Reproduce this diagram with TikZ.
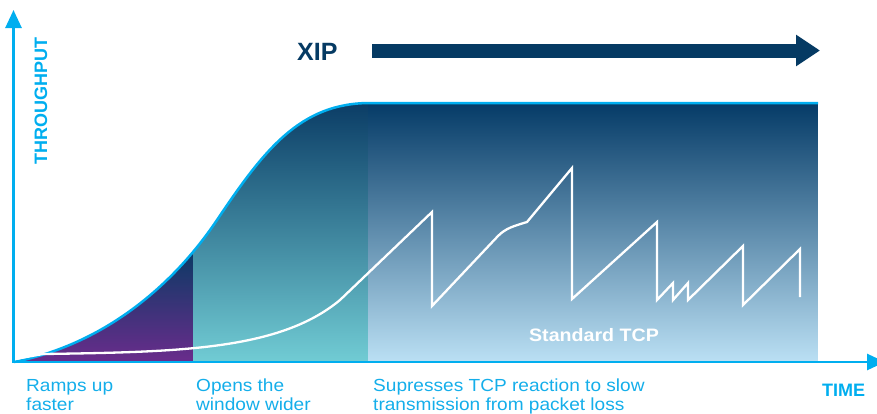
\documentclass[tikz,border=0pt]{standalone}
\usepackage{fontspec}
\setmainfont{Liberation Sans}
\newfontfamily\widefont{Liberation Sans}[FakeStretch=1.09]
\usetikzlibrary{arrows.meta,positioning}

\definecolor{axiscyan}{HTML}{00AEEF}
\definecolor{labelcyan}{HTML}{14AEEA}
\definecolor{xipnavy}{HTML}{053A63}
\definecolor{rampbot}{HTML}{6A2C8C}
\definecolor{ramptop}{HTML}{0A3A64}
\definecolor{opentop}{HTML}{0B3D66}
\definecolor{openbot}{HTML}{71CCD4}
\definecolor{holdtop}{HTML}{053B67}
\definecolor{holdbot}{HTML}{BBE0F4}

\tikzset{x=1pt, y=-1pt, % one unit is one pixel, y runs down
        axis line/.style={ % the two cyan axes
            draw=axiscyan,
            line width=2.7pt,
            -{Triangle[length=18pt,width=16pt]}},
        xip arrow/.style={ % the fat navy arrow
            draw=xipnavy,
            line width=14pt,
            -{Triangle[length=24pt,width=30pt]}},
        phase label/.style={ % texts under the time axis
            text=labelcyan,
            font=\widefont\fontsize{17.5}{19}\selectfont,
            align=left,
            inner sep=0pt,
            anchor=north west},
        axis label/.style={
            text=axiscyan,
            font=\fontsize{18}{20}\selectfont\bfseries,
            inner sep=0pt,
            anchor=base west}
        }

\begin{document}
\begin{tikzpicture}
    \useasboundingbox (0,0) rectangle (877,413);

    % area under the XIP curve, three phases
    \begin{scope}
        \clip (14,362) .. controls (100,345) and (170,290) .. (217,220)
            .. controls (264,150) and (300,103) .. (370,103)
            -- (818,103) -- (818,362) -- cycle;
        \shade[top color=ramptop, bottom color=rampbot] (14,250) rectangle (193,362);
        \shade[top color=opentop, bottom color=openbot] (193,103) rectangle (368,362);
        \shade[top color=holdtop, bottom color=holdbot] (368,103) rectangle (818,362);
    \end{scope}

    % XIP curve outline
    \draw[axiscyan, line width=2.5pt]
        (14,362) .. controls (100,345) and (170,290) .. (217,220)
        .. controls (264,150) and (300,103) .. (370,103)
        -- (818,103);

    % standard TCP sawtooth
    \draw[white, line width=2.3pt, line join=miter]
        (15,359) -- (43,354)
        .. controls (180,352) and (280,350) .. (340,300)
        -- (432,212) -- (432,306) -- (498,236)
        .. controls (506,228) and (514,226) .. (527,222)
        -- (572,168) -- (572,299) -- (657,222) -- (657,300)
        -- (673,283) -- (673,300) -- (688,283) -- (688,300)
        -- (743,246) -- (743,305) -- (800,249) -- (800,297);

    % axes
    \coordinate (origin) at (13.5,362);
    \coordinate (ytop) at (13.5,10);
    \coordinate (xend) at (885,362);
    \draw[axis line] (origin) -- (ytop);
    \draw[axis line] ([xshift=-1.35pt]origin) -- (xend);

    % XIP arrow
    \node[text=xipnavy, font=\fontsize{25}{28}\selectfont\bfseries,
          inner sep=0pt, anchor=base west] (xip) at (297,60) {XIP};
    \coordinate (xipstart) at (372,50.5);
    \coordinate (xipend) at (820,50.5);
    \draw[xip arrow] (xipstart) -- (xipend);

    % labels
    \node[axis label, rotate=90] (throughput) at (47,165) {THROUGHPUT};
    \node[axis label] (time) at (822,396) {TIME};
    \node[text=white, font=\widefont\fontsize{18}{20}\selectfont\bfseries,
          anchor=base, inner sep=0pt] (tcp) at (594,341) {Standard TCP};

    \node[phase label] (ramp) at (26,379) {Ramps up\\faster};
    \node[phase label] (open) at (196,379) {Opens the\\window wider};
    \node[phase label] (hold) at (373,379) {Supresses TCP reaction to slow\\transmission from packet loss};
\end{tikzpicture}
\end{document}
